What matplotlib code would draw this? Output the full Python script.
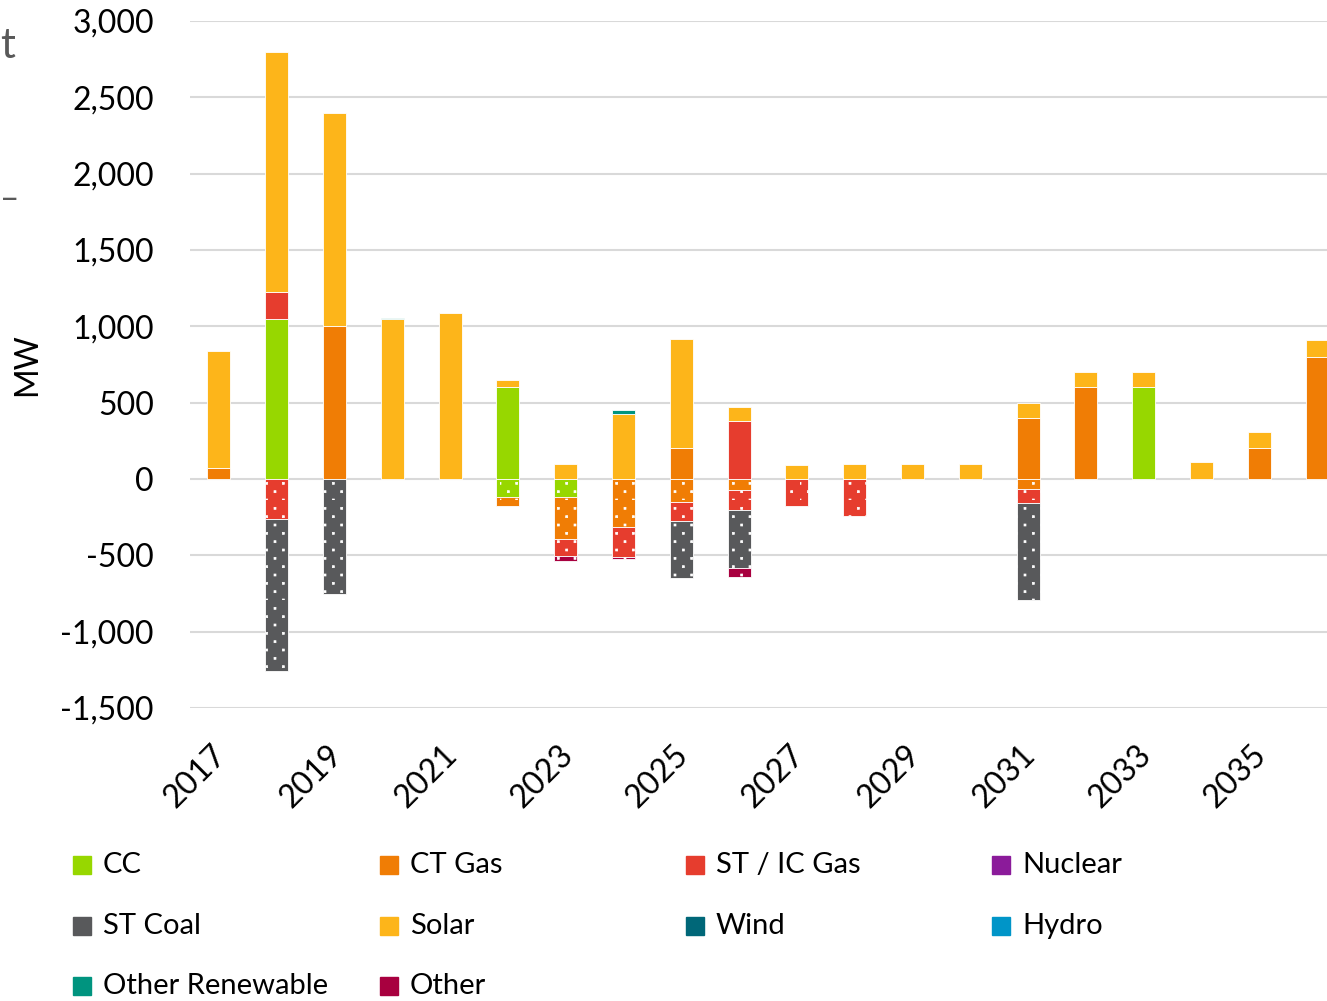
import numpy as np
import matplotlib.pyplot as plt
import matplotlib.hatch as mhatch
from matplotlib.path import Path
from matplotlib.patches import Rectangle
from matplotlib.transforms import ScaledTranslation

plt.rcParams['font.family'] = ['Lato', 'DejaVu Sans']
plt.rcParams['hatch.linewidth'] = 0.5


class SquareDots(mhatch.HatchPatternBase):
    # small square dots on a staggered grid, like the office "dotted" fill
    def __init__(self, hatch, density):
        n = hatch.count('.')
        self.pts = []
        if n:
            cols, rows = 6 * n, 12 * n
            for j in range(rows):
                off = (j % 2) * 0.5 / cols
                for i in range(cols):
                    self.pts.append((i / cols + off, j / rows))
        self.num_vertices = len(self.pts) * 5

    def set_vertices_and_codes(self, vertices, codes):
        h = 0.01
        sq = np.array([[-h, -h], [h, -h], [h, h], [-h, h], [-h, -h]])
        cc = [Path.MOVETO, Path.LINETO, Path.LINETO, Path.LINETO, Path.CLOSEPOLY]
        for k, (px, py) in enumerate(self.pts):
            vertices[k * 5:(k + 1) * 5] = sq + (px, py)
            codes[k * 5:(k + 1) * 5] = cc


mhatch._hatch_types = [SquareDots if t is mhatch.SmallFilledCircles else t
                       for t in mhatch._hatch_types]

years = list(range(2017, 2037))

# additions (positive) and retirements (negative), MW
cc_add = [0, 1050, 0, 0, 0, 600, 0, 0, 0, 0, 0, 0, 0, 0, 0, 0, 600, 0, 0, 0]
cc_ret = [0, 0, 0, 0, 0, -115, -115, 0, 0, 0, 0, 0, 0, 0, 0, 0, 0, 0, 0, 0]
ct_add = [75, 0, 1000, 0, 0, 0, 0, 0, 200, 0, 0, 0, 0, 0, 400, 600, 0, 0, 200, 800]
ct_ret = [0, 0, 0, 0, 0, -60, -280, -315, -150, -75, 0, 0, 0, 0, -65, 0, 0, 0, 0, 0]
st_add = [0, 175, 0, 0, 0, 0, 0, 0, 0, 380, 0, 0, 0, 0, 0, 0, 0, 0, 0, 0]
st_ret = [0, -265, 0, 0, 0, 0, -110, -195, -125, -125, -180, -245, 0, 0, -95, 0, 0, 0, 0, 0]
coal_ret = [0, -990, -750, 0, 0, 0, 0, 0, -375, -380, 0, 0, 0, 0, -630, 0, 0, 0, 0, 0]
solar_add = [765, 1570, 1400, 1045, 1085, 50, 100, 425, 720, 90, 90, 95, 95, 100, 100, 100, 100, 110, 110, 110]
othren_add = [0, 0, 0, 12, 0, 0, 0, 25, 0, 0, 0, 0, 0, 0, 0, 0, 0, 0, 0, 0]
other_ret = [0, 0, 0, 0, 0, 0, -30, -17, 0, -60, 0, 0, 0, 0, 0, 0, 0, 0, 0, 0]

names = ["CC", "CT Gas", "ST / IC Gas", "Nuclear", "ST Coal", "Solar",
         "Wind", "Hydro", "Other Renewable", "Other"]
colors = ["#97D700", "#F07D05", "#E63D2E", "#8B1B9A", "#58595B", "#FDB51A",
          "#006778", "#0095C8", "#00947F", "#A8003F"]

adds = {"CC": cc_add, "CT Gas": ct_add, "ST / IC Gas": st_add,
        "Solar": solar_add, "Other Renewable": othren_add}
rets = {"CC": cc_ret, "CT Gas": ct_ret, "ST / IC Gas": st_ret,
        "ST Coal": coal_ret, "Other": other_ret}

fig = plt.figure(figsize=(13.27, 10.01), dpi=100)
W, H = 1327, 1001
ax = fig.add_axes([190 / W, (H - 708) / H, 1156 / W, 687 / H])

x = np.arange(len(years))
pos_bottom = np.zeros(len(years))
neg_bottom = np.zeros(len(years))
bw = 0.4

for name, color in zip(names, colors):
    if name in adds:
        v = np.array(adds[name], dtype=float)
        m = v != 0
        ax.bar(x[m], v[m], bw, bottom=pos_bottom[m], color=color,
               edgecolor="white", linewidth=0.6, zorder=3)
        pos_bottom += v
    if name in rets:
        v = np.array(rets[name], dtype=float)
        m = v != 0
        ax.bar(x[m], v[m], bw, bottom=neg_bottom[m], color=color,
               edgecolor="white", linewidth=0.6, hatch=".", zorder=3)
        neg_bottom += v

ax.set_xlim(-0.5, 19.5)
ax.set_ylim(-1500, 3000)
ax.set_yticks(np.arange(-1500, 3001, 500))
ax.yaxis.set_major_formatter(lambda v, p: f"{int(v):,}")
ax.grid(axis="y", color="#D9D9D9", linewidth=1.5, zorder=0)
ax.set_axisbelow(True)
for s in ax.spines.values():
    s.set_visible(False)

ax.set_xticks(x[::2])
ax.set_xticklabels([str(y) for y in years[::2]], rotation=45, ha="right",
                   va="top", rotation_mode="anchor")
ax.tick_params(axis="x", length=0, pad=23, labelsize=23)
ax.tick_params(axis="y", length=0, pad=26, labelsize=23)
shift = ScaledTranslation(-0.08, 0, fig.dpi_scale_trans)
for lbl in ax.get_xticklabels():
    lbl.set_transform(lbl.get_transform() + shift)

ax.set_ylabel("MW", fontsize=23)
ax.yaxis.set_label_coords(-0.128, 0.5)

# legend, laid out row by row in four equal columns
col_x = [73, 380, 686, 992]
row_y = [865, 926, 986]
for i, (name, color) in enumerate(zip(names, colors)):
    cx = col_x[i % 4]
    cy = row_y[i // 4]
    fig.add_artist(Rectangle((cx / W, (H - cy - 9) / H), 18 / W, 18 / H,
                             transform=fig.transFigure, color=color))
    fig.text((cx + 30) / W, (H - cy) / H, name, fontsize=21, va="center",
             ha="left")

# fragments of text at the left edge
fig.text(0, (H - 46) / H, "t", fontsize=30, color="#595959",
         va="center", ha="left")
fig.text(0, (H - 200) / H, "–", fontsize=24, color="#595959",
         va="center", ha="left")

fig.savefig("out.png", dpi=100)
